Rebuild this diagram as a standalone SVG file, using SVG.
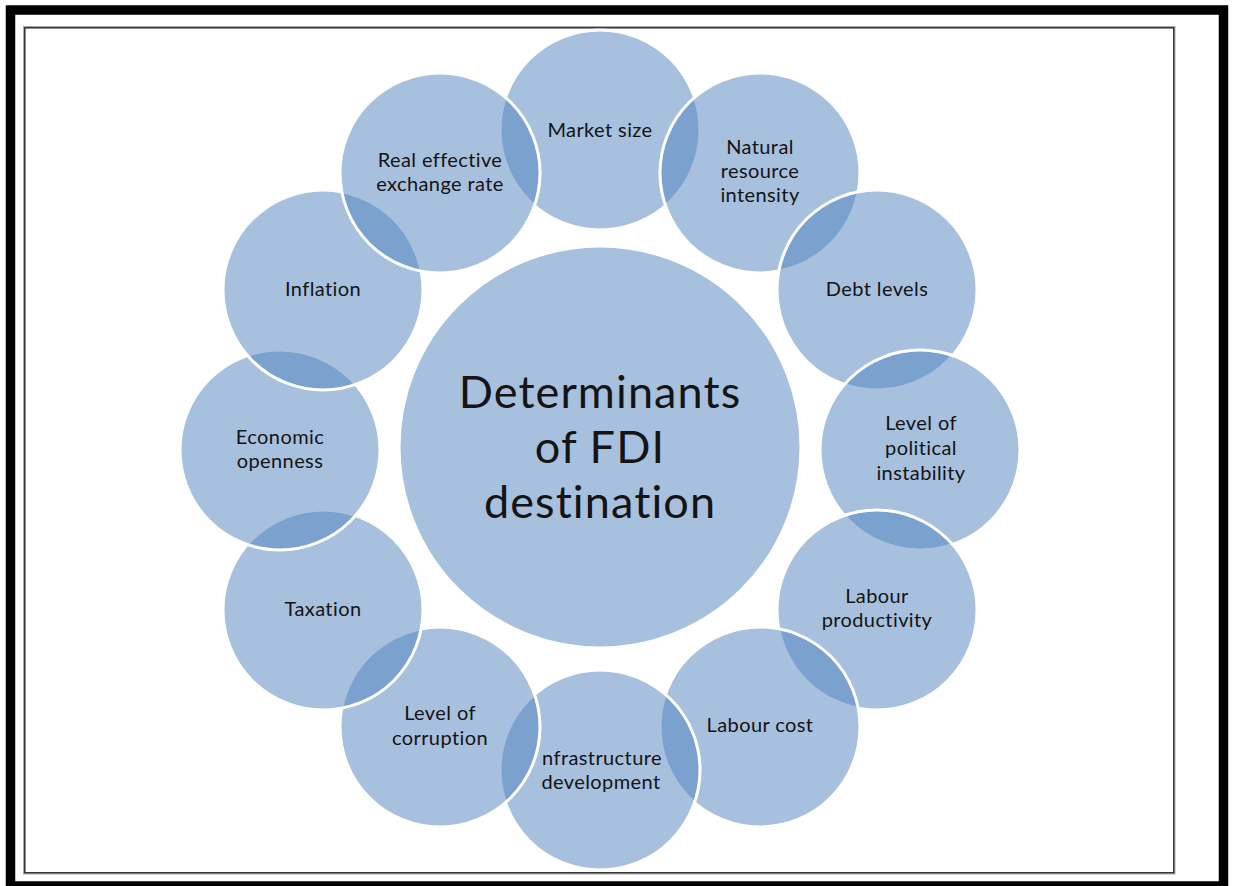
<svg xmlns="http://www.w3.org/2000/svg" width="1235" height="886" viewBox="0 0 1235 886">
<style>
.c { fill: rgb(79,129,189); fill-opacity: 0.5; stroke: #ffffff; stroke-width: 3; }
.t { font-family: Lato, "Open Sans", "Liberation Sans", sans-serif; font-size: 20px; letter-spacing: 0.4px; fill: #141414; text-anchor: middle; font-variant-ligatures: none; font-feature-settings: "liga" 0; }
.big { font-size: 45px; letter-spacing: 1.1px; }
</style>
<rect x="0" y="0" width="1235" height="886" fill="#ffffff"/>
<g id="frame">
  <rect x="10.5" y="10" width="1213" height="876" fill="none" stroke="#000" stroke-width="9.5"/>
  <rect x="23.5" y="26.5" width="1151.5" height="847.5" fill="none" stroke="#aaa" stroke-width="1"/>
  <rect x="24.8" y="27.8" width="1149" height="845" fill="none" stroke="#222" stroke-width="1.4"/>
</g>
<g id="connectors"></g>
<g id="node-center">
  <circle class="c" cx="600" cy="447" r="201"/>
  <text class="t big" x="600" y="408">Determinants</text>
  <text class="t big" x="600" y="463">of FDI</text>
  <text class="t big" x="600" y="518">destination</text>
</g>
<g id="node-market-size">
  <circle class="c" cx="600" cy="130" r="100"/>
  <text class="t" x="600" y="137">Market size</text>
</g>
<g id="node-natural-resource">
  <circle class="c" cx="760" cy="173" r="100"/>
  <text class="t" x="760" y="154">Natural</text>
  <text class="t" x="760" y="178">resource</text>
  <text class="t" x="760" y="202">intensity</text>
</g>
<g id="node-debt-levels">
  <circle class="c" cx="877" cy="290" r="100"/>
  <text class="t" x="877" y="296">Debt levels</text>
</g>
<g id="node-political-instability">
  <circle class="c" cx="920" cy="450" r="100"/>
  <text class="t" x="921" y="430">Level of</text>
  <text class="t" x="921" y="455">political</text>
  <text class="t" x="921" y="480">instability</text>
</g>
<g id="node-labour-productivity">
  <circle class="c" cx="877" cy="610" r="100"/>
  <text class="t" x="877" y="603">Labour</text>
  <text class="t" x="877" y="627">productivity</text>
</g>
<g id="node-labour-cost">
  <circle class="c" cx="760" cy="727" r="100"/>
  <text class="t" x="760" y="732">Labour cost</text>
</g>
<g id="node-infrastructure">
  <circle class="c" cx="600" cy="770" r="100"/>
  <text class="t" x="602" y="765">nfrastructure</text>
  <text class="t" x="601" y="789">development</text>
</g>
<g id="node-corruption">
  <circle class="c" cx="440" cy="727" r="100"/>
  <text class="t" x="440" y="720">Level of</text>
  <text class="t" x="440" y="745">corruption</text>
</g>
<g id="node-taxation">
  <circle class="c" cx="323" cy="610" r="100"/>
  <text class="t" x="323" y="616">Taxation</text>
</g>
<g id="node-economic-openness">
  <circle class="c" cx="280" cy="450" r="100"/>
  <text class="t" x="280" y="444">Economic</text>
  <text class="t" x="280" y="468">openness</text>
</g>
<g id="node-inflation">
  <circle class="c" cx="323" cy="290" r="100"/>
  <text class="t" x="323" y="296">Inflation</text>
</g>
<g id="node-real-exchange-rate">
  <circle class="c" cx="440" cy="173" r="100"/>
  <text class="t" x="440" y="167">Real effective</text>
  <text class="t" x="440" y="191">exchange rate</text>
</g>
</svg>
